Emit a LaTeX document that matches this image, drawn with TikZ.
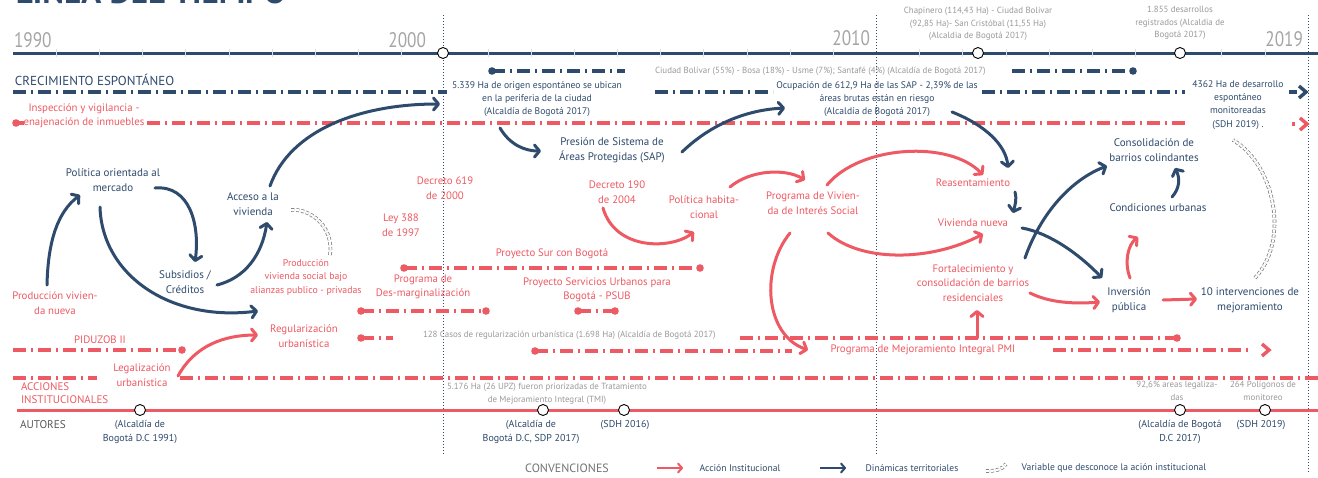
\documentclass[tikz,border=0pt]{standalone}
\usepackage{fontspec}
\setmainfont{PT Sans}
\usetikzlibrary{arrows.meta}
\definecolor{navy}{HTML}{2E4A6C}
\definecolor{coral}{HTML}{EE5A63}
\definecolor{note}{HTML}{9A9A9A}
\definecolor{yeargray}{HTML}{A5A5A5}
\begin{document}
\begin{tikzpicture}[x=1pt,y=-1pt,
  every node/.style={inner sep=0pt,outer sep=0pt,align=center},
  nlab/.style={font=\fontsize{11}{15}\selectfont,text=navy},
  dlab/.style={font=\fontsize{9.6}{13.2}\selectfont,text=navy},
  rlab/.style={font=\fontsize{10.8}{14.5}\selectfont,text=coral},
  glab/.style={font=\fontsize{8.9}{12.5}\selectfont,text=note},
  yr/.style={font=\fontsize{21}{21}\selectfont,text=yeargray},
  track/.style={line width=3.4pt,dash pattern=on 13pt off 5pt on 2pt off 5pt},
  ntrack/.style={track,draw=navy},
  rtrack/.style={track,draw=coral},
  flow/.style={line width=3pt,line cap=round,-{Straight Barb[round,length=5pt,width=12pt]}},
  nflow/.style={flow,draw=navy},
  rflow/.style={flow,draw=coral},
  vflow/.style={draw=black!55,line width=0.7pt,double=white,double distance=2.2pt,dash pattern=on 3pt off 2pt},
  yearpt/.style={circle,draw=black,fill=white,line width=0.9pt,minimum size=11pt},
  tickmk/.style={draw=white!75!gray,line width=0.7pt},
  guide/.style={draw=navy,line width=1pt,dotted},
  chev/.style={line width=3.4pt,miter limit=10},
  legtxt/.style={font=\fontsize{9.6}{11}\selectfont,text=navy},
]
\useasboundingbox (0,0) rectangle (1318,477);
\fill[white] (0,0) rectangle (1318,477);

% title, only its foot shows at the top edge
\node[anchor=base west,font=\fontsize{33}{33}\selectfont\bfseries,text=navy] (title) at (16,3.5) {LÍNEA DEL TIEMPO};

% decade guides
\draw[guide] (443,15) -- (443,455);
\draw[guide] (876,15) -- (876,455);
\draw[guide] (1308,15) -- (1308,472);

% upper time axis
\draw[navy,line width=3pt] (13,53) -- (1318,53);
\foreach \k in {1,...,29}{\ifnum\k=10\else\ifnum\k=20\else
  \draw[tickmk] ({13+43.17*\k},49) -- ++(0,8);\fi\fi}
\node[yearpt] (p2000) at (443,53) {};
\node[yearpt] (p2012) at (978,53) {};
\node[yearpt] (p2017) at (1180,53) {};

\node[yr,anchor=west] (t1990) at (14,40) {\scalebox{0.82}[1]{1990}};
\node[yr,anchor=east] (t2000) at (426,40) {\scalebox{0.82}[1]{2000}};
\node[yr,anchor=east] (t2010) at (870,38) {\scalebox{0.82}[1]{2010}};
\node[yr,anchor=east] (t2019) at (1303,39) {\scalebox{0.82}[1]{2019}};

% notes above the axis
\node[glab] (chap) at (978,24) {Chapinero (114,43 Ha) - Ciudad Bolivar\\(92,85 Ha)- San Cristóbal (11,55 Ha)\\(Alcaldia de Bogotá 2017)};
\node[glab] (n1855) at (1180,23) {1.855 desarrollos\\registrados (Alcaldia de\\Bogotá 2017)};

% lower time axis
\draw[coral,line width=3pt] (17,410) -- (1318,410);
\node[yearpt] (q1991) at (140,410) {};
\node[yearpt] (q2017a) at (543,410) {};
\node[yearpt] (q2016) at (624,410) {};
\node[yearpt] (q2017b) at (1180,410) {};
\node[yearpt] (q2019) at (1265,410) {};

% section headings
\node[font=\fontsize{13}{15}\selectfont,text=navy,anchor=west] (crec) at (15,79.5) {CRECIMIENTO ESPONTÁNEO};
\node[font=\fontsize{11}{13}\selectfont,text=coral,align=left,anchor=north west] (acc) at (21,383) {ACCIONES\\INSTITUCIONALES};
\node[font=\fontsize{11.2}{13}\selectfont,text=black!65,anchor=west] (aut) at (20,425) {AUTORES};

% spontaneous growth tracks
\draw[ntrack] (13,92) -- (447,92);
\draw[ntrack] (492,71) -- (625,71);
\fill[navy] (492,71) circle (3.8pt);
\draw[ntrack] (655,92) -- (773,92);
\draw[ntrack] (1012,71) -- (1133,71);
\fill[navy] (1133,71) circle (3.8pt);
\draw[ntrack] (982,92) -- (1185,92);
\draw[navy,line width=3.4pt] (1289,92) -- (1297,92);
\draw[navy,chev] (1299,86) -- (1306,92) -- (1299,98);

% institutional tracks
\fill[coral] (16,123) circle (3.8pt);
\draw[coral,line width=3.4pt] (16,123) -- (24,123);
\draw[rtrack] (147,123) -- (1185,123);
\draw[coral,line width=3.4pt] (1292,124) -- (1295,124);
\draw[coral,chev] (1300,118) -- (1307,124) -- (1300,130);

\draw[rtrack] (404,268) -- (700,268);
\fill[coral] (404,268) circle (3.8pt) (700,268) circle (3.8pt);
\draw[rtrack] (361,311) -- (486,311);
\fill[coral] (361,311) circle (3.8pt) (486,311) circle (3.8pt);
\draw[rtrack] (578,311) -- (615,311);
\fill[coral] (578,311) circle (3.8pt) (615,311) circle (3.8pt);
\draw[rtrack] (361,338) -- (393,338);
\fill[coral] (361,338) circle (3.8pt);
\draw[rtrack] (740,338) -- (1177,338);
\fill[coral] (1177,338) circle (3.8pt);
\draw[rtrack] (13,350) -- (182,350);
\fill[coral] (182,350) circle (3.8pt);
\draw[rtrack] (535,351) -- (792,351);
\fill[coral] (535,351) circle (3.8pt);
\draw[rtrack] (1053,350) -- (1250,350);
\draw[coral,chev] (1262,344) -- (1269,350) -- (1262,356);
\draw[rtrack] (13,378) -- (97,378);
\draw[rtrack] (180,378) -- (1318,378);

% navy labels
\node[nlab] (pol) at (113,180) {Política orientada al\\mercado};
\node[nlab] (sub) at (185,282) {Subsidios /\\Créditos};
\node[nlab] (accv) at (253,204) {Acceso a la\\vivienda};
\node[nlab] (pres) at (612,150) {Presión de Sistema de\\Áreas Protegidas (SAP)};
\node[dlab] (ha5339) at (537,99) {5.339 Ha de origen espontáneo se ubican\\en la periferia de la ciudad\\(Alcaldía de Bogotá 2017)};
\node[dlab] (ocup) at (877,99) {Ocupación de 612,9 Ha de las SAP - 2,39\% de las\\áreas brutas están en riesgo\\(Alcaldía de Bogotá 2017)};
\node[dlab] (ha4362) at (1238,105) {4362 Ha de desarrollo\\espontáneo\\monitoreadas\\(SDH 2019) .};
\node[nlab] (cons) at (1154,150) {Consolidación de\\barrios colindantes};
\node[nlab] (cond) at (1158,208) {Condiciones urbanas};
\node[nlab] (inv) at (1129,300) {Inversión\\pública};
\node[nlab] (int10) at (1250,300) {10 intervenciones de\\mejoramiento};

% coral labels
\node[rlab] (insp) at (84,116) {Inspección y vigilancia -\\enajenación de inmuebles};
\node[rlab] (prod1) at (55,303) {Producción vivien-\\da nueva};
\node[rlab,font=\fontsize{9.8}{13.5}\selectfont] (prod2) at (306,277) {Producción\\vivienda social bajo\\alianzas publico - privadas};
\node[rlab] (ley) at (401,225) {Ley 388\\de 1997};
\node[rlab] (dec619) at (445,188) {Decreto 619\\de 2000};
\node[rlab] (dec190) at (617,192) {Decreto 190\\de 2004};
\node[rlab] (polhab) at (704,207) {Política habita-\\cional};
\node[rlab] (pvis) at (813,203) {Programa de Vivien-\\da de Interés Social};
\node[rlab] (reas) at (973,183) {Reasentamiento};
\node[rlab] (vnueva) at (973,223) {Vivienda nueva};
\node[rlab] (fort) at (973,283) {Fortalecimiento y\\consolidación de barrios\\residenciales};
\node[rlab] (sur) at (552,254) {Proyecto Sur con Bogotá};
\node[rlab] (desm) at (423,287) {Programa de\\Des-marginalización};
\node[rlab] (psub) at (597,290) {Proyecto Servicios Urbanos para\\Bogotá - PSUB};
\node[rlab] (reg) at (304,336) {Regularización\\urbanística};
\node[rlab] (pid) at (100,340) {PIDUZOB II};
\node[rlab] (legal) at (142,375) {Legalización\\urbanística};
\node[rlab] (pmi) at (923,350) {Programa de Mejoramiento Integral PMI};

% grey notes
\node[glab,anchor=west] (ciudad) at (655,71) {Ciudad Bolívar (55\%) - Bosa (18\%) - Usme (7\%); Santafé (4\%) (Alcaldía de Bogotá 2017)};
\node[glab,anchor=west] (c128) at (423,335) {128 Casos de regularización urbanística (1.698 Ha) (Alcaldía de Bogotá 2017)};
\node[glab] (n5176) at (547,394) {5.176 Ha (26 UPZ) fueron priorizadas de Tratamiento\\de Mejoramiento Integral (TMI)};
\node[glab] (n926) at (1177,391) {92,6\% areas legaliza-\\das};
\node[glab] (n264) at (1263,391) {264 Polígonos de\\monitoreo};

% authors
\node[dlab,font=\fontsize{10}{14}\selectfont] (a1991) at (140,432) {(Alcaldía de\\Bogotá D.C 1991)};
\node[dlab,font=\fontsize{10}{14}\selectfont] (a2017) at (531,432) {(Alcaldía de\\Bogotá D.C, SDP 2017)};
\node[dlab,font=\fontsize{10}{14}\selectfont] (s2016) at (625,425) {(SDH 2016)};
\node[dlab,font=\fontsize{10}{14}\selectfont] (a2017b) at (1180,432) {(Alcaldía de Bogotá\\D.C 2017)};
\node[dlab,font=\fontsize{10}{14}\selectfont] (s2019) at (1261,425) {(SDH 2019)};

% connector end points
\coordinate (n1s) at (47,285);   \coordinate (n1e) at (80,195);
\coordinate (n2s) at (100,207);  \coordinate (n2e) at (258,311);
\coordinate (n3s) at (155,188);  \coordinate (n3e) at (195,262);
\coordinate (n4s) at (217,285);  \coordinate (n4e) at (267,222);
\coordinate (n5s) at (270,186);  \coordinate (n5e) at (440,104);
\coordinate (n6s) at (500,128);  \coordinate (n6e) at (541,151);
\coordinate (n7s) at (682,152);  \coordinate (n7e) at (785,108);
\coordinate (n8s) at (952,112);  \coordinate (n8e) at (1008,168);
\coordinate (n9s) at (1015,192); \coordinate (n9e) at (1013,213);
\coordinate (n10s) at (1022,228);\coordinate (n10e) at (1102,278);
\coordinate (n11s) at (1025,258);\coordinate (n11e) at (1107,166);
\coordinate (n12s) at (1172,197);\coordinate (n12e) at (1175,168);
\coordinate (r13s) at (178,376); \coordinate (r13e) at (258,335);
\coordinate (r14s) at (603,208); \coordinate (r14e) at (694,232);
\coordinate (r15s) at (730,187); \coordinate (r15e) at (805,180);
\coordinate (r16s) at (827,185); \coordinate (r16e) at (983,175);
\coordinate (r17s) at (828,233); \coordinate (r17e) at (983,234);
\coordinate (r18s) at (790,233); \coordinate (r18e) at (808,350);
\coordinate (r19s) at (977,338); \coordinate (r19e) at (977,310);
\coordinate (r20s) at (1030,293);\coordinate (r20e) at (1100,302);
\coordinate (r21s) at (1130,278);\coordinate (r21e) at (1138,237);
\coordinate (r22s) at (1163,300);\coordinate (r22e) at (1197,299);
\coordinate (g23s) at (330,255); \coordinate (g23e) at (290,210);
\coordinate (g24s) at (1255,278);\coordinate (g24e) at (1233,140);

% territorial dynamics
\draw[nflow] (n1s) .. controls (48,240) and (58,212) .. (n1e);
\draw[nflow] (n2s) .. controls (102,275) and (170,322) .. (n2e);
\draw[nflow] (n3s) .. controls (190,185) and (200,225) .. (n3e);
\draw[nflow] (n4s) .. controls (245,278) and (262,255) .. (n4e);
\draw[nflow] (n5s) .. controls (290,130) and (360,104) .. (n5e);
\draw[nflow] (n6s) .. controls (510,145) and (525,151) .. (n6e);
\draw[nflow] (n7s) .. controls (710,125) and (745,110) .. (n7e);
\draw[nflow] (n8s) .. controls (985,125) and (1006,145) .. (n8e);
\draw[nflow] (n9s) .. controls (1017,200) and (1015,205) .. (n9e);

% institutional actions
\draw[rflow] (r13s) .. controls (195,345) and (225,335) .. (r13e);
\draw[rflow] (r14s) .. controls (615,250) and (670,250) .. (r14e);
\draw[rflow] (r15s) .. controls (750,170) and (785,168) .. (r15e);
\draw[rflow] (r16s) .. controls (860,145) and (950,140) .. (r16e);
\draw[rflow] (r17s) .. controls (860,262) and (930,262) .. (r17e);
\draw[rflow] (r18s) .. controls (760,270) and (765,335) .. (r18e);
\draw[rflow] (r19s) -- (r19e);
\draw[rflow] (r20s) .. controls (1050,303) and (1075,304) .. (r20e);
\draw[rflow] (r21s) .. controls (1124,262) and (1128,245) .. (r21e);
\draw[rflow] (r22s) -- (r22e);

\draw[nflow] (n10s) .. controls (1050,233) and (1080,255) .. (n10e);
\draw[nflow] (n11s) .. controls (1040,215) and (1070,180) .. (n11e);
\draw[nflow] (n12s) .. controls (1180,188) and (1180,178) .. (n12e);

% variables that ignore institutional action
\draw[vflow] (g23s) .. controls (334,228) and (312,208) .. (g23e);
\draw[vflow] (g24s) .. controls (1290,240) and (1275,165) .. (g24e);

% legend
\node[font=\fontsize{12}{14}\selectfont,text=black!55] (conv) at (567,468) {CONVENCIONES};
\coordinate (lr1) at (657,468); \coordinate (lr2) at (683,468);
\draw[coral,line width=2pt,-{Straight Barb[round,length=4pt,width=9pt]}] (lr1) -- (lr2);
\node[legtxt] (lacc) at (740,468) {Acción Institucional};
\coordinate (ln1) at (820,468); \coordinate (ln2) at (846,468);
\draw[navy,line width=2pt,-{Straight Barb[round,length=4pt,width=9pt]}] (ln1) -- (ln2);
\node[legtxt] (ldin) at (912,468) {Dinámicas territoriales};
\coordinate (lg1) at (986,471); \coordinate (lg2) at (1006,464);
\draw[vflow] (lg1) .. controls (995,471) and (1002,470) .. (lg2);
\node[legtxt] (lvar) at (1114,468) {Variable que desconoce la ación institucional};
\end{tikzpicture}
\end{document}
